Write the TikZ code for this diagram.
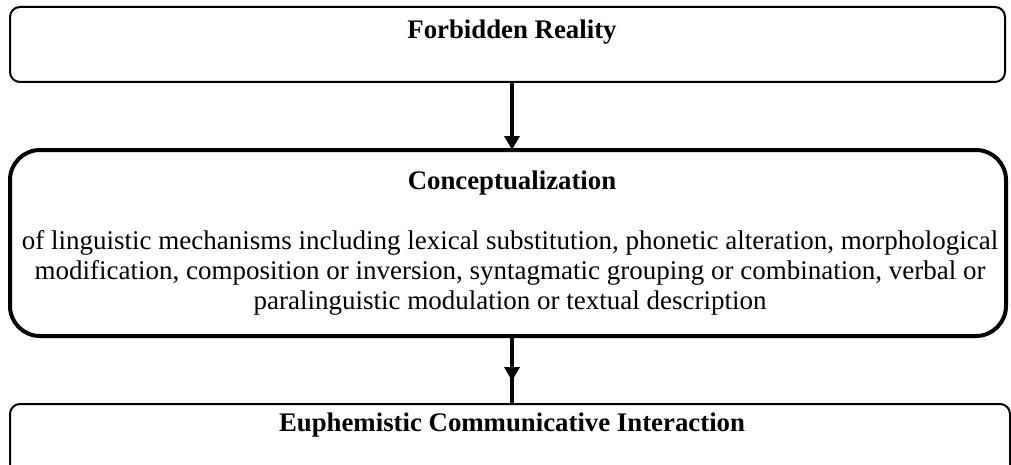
\documentclass[tikz,border=0pt]{standalone}
\usepackage{fontspec}
\setmainfont{Liberation Serif}
\usetikzlibrary{arrows.meta}
\begin{document}
\begin{tikzpicture}[x=0.5pt,y=-0.5pt,
  thinbox/.style={draw,line width=1pt,rounded corners=5pt,inner sep=0pt,outer sep=0pt},
  thickbox/.style={draw,line width=2pt,rounded corners=15pt,inner sep=0pt,outer sep=0pt},
  title/.style={font=\fontsize{13.4}{15}\selectfont\bfseries,anchor=base,inner sep=0pt},
  body/.style={font=\fontsize{13.5}{15}\selectfont,anchor=base,inner sep=0pt},
  conn/.style={line width=1.75pt},
  tip/.style={-{Triangle[width=7.5pt,length=7pt]}}]
\useasboundingbox (0,0) rectangle (1011,465);
\clip (0,0) rectangle (1011,465);
\node[thinbox,minimum width=497.5pt,minimum height=37.5pt] (fr) at (507.5,44.5) {};
\node[thickbox,minimum width=498pt,minimum height=93pt] (cm) at (508,243) {};
\node[thinbox,minimum width=500pt,minimum height=40pt] (eu) at (510,444) {};
\node[title] (t1) at (512,39) {Forbidden Reality};
\node[title] (t2) at (512,189) {Conceptualization};
\node[body] (b1) at (510,249) {of linguistic mechanisms including lexical substitution, phonetic alteration, morphological};
\node[body] (b2) at (510,279) {modification, composition or inversion, syntagmatic grouping or combination, verbal or};
\node[body] (b3) at (510,309) {paralinguistic modulation or textual description};
\node[title] (t3) at (512,431) {Euphemistic Communicative Interaction};
\coordinate (ax) at (512,0);
\coordinate (mid) at (512,381);
\draw[conn,tip] (fr.south -| ax) -- (cm.north -| ax);
\draw[conn] (cm.south -| ax) -- (eu.north -| ax);
\draw[conn,tip] (cm.south -| ax) -- (mid);
\end{tikzpicture}
\end{document}
